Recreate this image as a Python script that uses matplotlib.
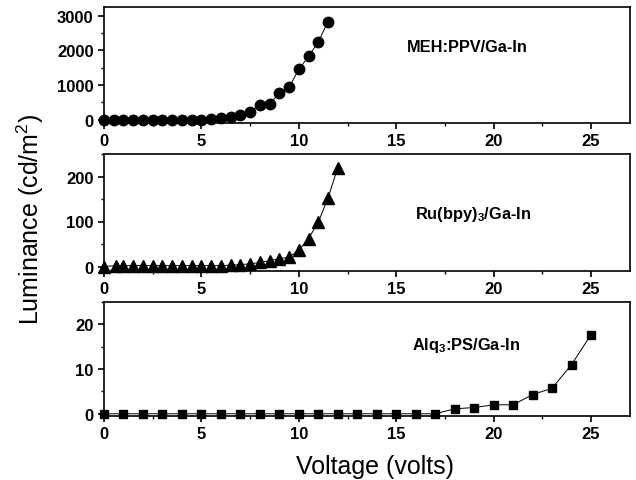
import numpy as np
import matplotlib
matplotlib.use("Agg")
from matplotlib import pyplot as plt
from matplotlib.ticker import MultipleLocator

plt.rcParams['font.family'] = ['Liberation Sans', 'DejaVu Sans']
plt.rcParams['mathtext.fontset'] = 'custom'
plt.rcParams['mathtext.rm'] = 'Liberation Sans'
plt.rcParams['mathtext.bf'] = 'Liberation Sans:bold'

# MEH:PPV/Ga-In
v_meh = [0, 0.5, 1, 1.5, 2, 2.5, 3, 3.5, 4, 4.5, 5, 5.5, 6, 6.5, 7, 7.5,
         8, 8.5, 9, 9.5, 10, 10.5, 11, 11.5]
l_meh = [0, 0, 0, 0, 0, 0, 0, 0, 0, 0, 0, 10, 30, 67, 134, 230,
         412, 460, 758, 930, 1448, 1822, 2244, 2829]

# Ru(bpy)3/Ga-In
v_ru = [0, 0.6, 1, 1.5, 2, 2.5, 3, 3.5, 4, 4.5, 5, 5.5, 6, 6.5, 7, 7.5,
        8, 8.5, 9, 9.5, 10, 10.5, 11, 11.5, 12]
l_ru = [0, 2, 2, 2, 2, 2, 2, 2, 2, 2, 2, 2, 2, 3, 4, 6,
        9, 13, 17, 21, 36, 62, 99, 152, 220]

# Alq3:PS/Ga-In
v_alq = list(range(26))
l_alq = [0] * 18 + [1.1, 1.4, 2.0, 2.0, 4.3, 5.7, 11.0, 17.7]

panels = [
    (v_meh, l_meh, 'o', 7.5, (-100, 3250), 1000, 500, 'MEH:PPV/Ga-In', (0.576, 0.66)),
    (v_ru, l_ru, '^', 8.5, (-10, 250), 100, 50, r'Ru(bpy)$_\mathbf{3}$/Ga-In', (0.591, 0.49)),
    (v_alq, l_alq, 's', 6, (-0.5, 25), 10, 5, r'Alq$_\mathbf{3}$:PS/Ga-In', (0.586, 0.63)),
]
boxes = [(8, 124), (155, 272), (303, 417)]

W, H = 636, 481
fig = plt.figure(figsize=(W / 100, H / 100), dpi=100)

for (x, y, mk, ms, ylim, major, minor, label, pos), (top, bot) in zip(panels, boxes):
    ax = fig.add_axes([104 / W, 1 - bot / H, (630 - 104) / W, (bot - top) / H])
    ax.plot(x, y, '-', color='black', lw=0.7, marker=mk, ms=ms,
            markerfacecolor='black', markeredgecolor='black', clip_on=False)
    ax.set_xlim(0, 27)
    ax.set_ylim(*ylim)
    ax.xaxis.set_major_locator(MultipleLocator(5))
    ax.xaxis.set_minor_locator(MultipleLocator(2.5))
    ax.yaxis.set_major_locator(MultipleLocator(major))
    ax.yaxis.set_minor_locator(MultipleLocator(minor))
    ax.tick_params(which='major', direction='out', length=4.5, width=1.2,
                   labelsize=12, pad=3, top=False, right=False)
    ax.tick_params(which='minor', direction='out', length=2.5, width=1.0)
    for lab in ax.get_xticklabels() + ax.get_yticklabels():
        lab.set_fontweight('bold')
    for sp in ax.spines.values():
        sp.set_linewidth(1.2)
    ax.text(pos[0], pos[1], label, transform=ax.transAxes, fontsize=11.8,
            fontweight='bold', ha='left', va='center')

fig.text(0.048, 0.545, r'Luminance (cd/m$^2$)', rotation=90, fontsize=18,
         ha='center', va='center')
fig.text(0.59, 0.029, 'Voltage (volts)', fontsize=18, ha='center', va='center')

fig.savefig('out.png', dpi=100)
